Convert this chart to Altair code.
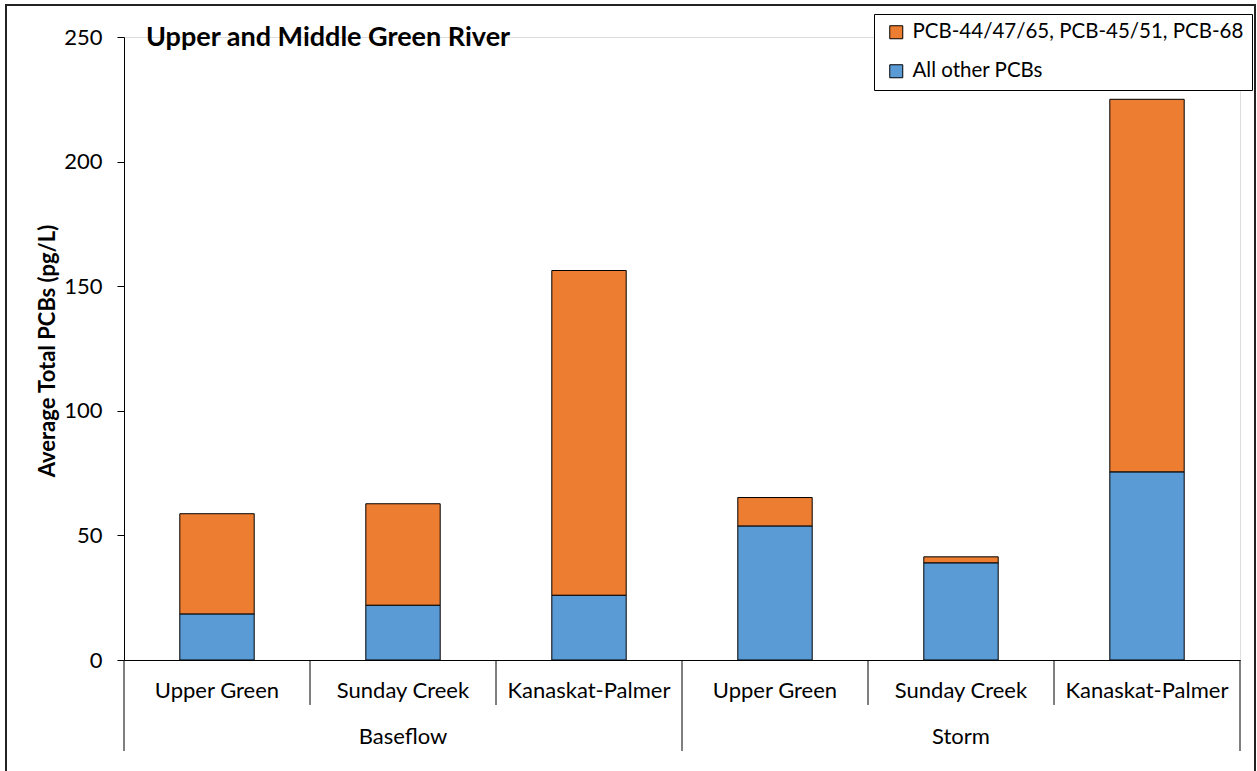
import altair as alt
import pandas as pd

# Sampling groups and sites along the Green River
groups = ["Baseflow", "Storm"]
sites = ["Upper Green", "Sunday Creek", "Kanaskat-Palmer"]

# Average total PCBs (pg/L) per sample, split into two stacked parts
other_pcbs = [18.5, 22.0, 26.0, 53.8, 39.0, 75.5]
pcb_44_45_68 = [40.2, 40.7, 130.3, 11.4, 2.4, 149.5]

series_names = ["PCB-44/47/65, PCB-45/51, PCB-68", "All other PCBs"]
series_colors = ["#ED7D31", "#5B9BD5"]
y_ticks = [0, 50, 100, 150, 200, 250]

FONT = "Lato"
W, H = 1116, 623

# stacked segments: "All other PCBs" at the bottom, congeners on top
rows = []
for i in range(len(other_pcbs)):
    pos = i + 0.5
    rows.append({"x": pos, "series": series_names[1], "lo": 0.0, "hi": other_pcbs[i]})
    rows.append({"x": pos, "series": series_names[0], "lo": other_pcbs[i],
                 "hi": other_pcbs[i] + pcb_44_45_68[i]})
bars_df = pd.DataFrame(rows)

site_df = pd.DataFrame({"x": [i + 0.5 for i in range(6)],
                        "label": [sites[i % 3] for i in range(6)]})
group_df = pd.DataFrame({"x": [1.5, 4.5], "label": groups})
inner_edges = pd.DataFrame({"x": [1, 2, 4, 5]})
outer_edges = pd.DataFrame({"x": [0, 3, 6]})
one = pd.DataFrame({"t": ["Upper and Middle Green River"]})

x_scale = alt.Scale(domain=[0, 6], nice=False, zero=False)
y_scale = alt.Scale(domain=[0, 250], nice=False)

bars = alt.Chart(bars_df).transform_calculate(
    x0="datum.x - 0.2", x1="datum.x + 0.2"
).mark_bar(stroke="black", strokeWidth=1, opacity=1).encode(
    x=alt.X("x0:Q", scale=x_scale,
            axis=alt.Axis(labels=False, ticks=False, grid=False, title=None,
                          domainColor="black", domainWidth=1)),
    x2="x1:Q",
    y=alt.Y("lo:Q", scale=y_scale,
            axis=alt.Axis(values=y_ticks, grid=False, tickSize=7, tickColor="black",
                          domainColor="black", labelFontSize=22, labelFont=FONT,
                          labelColor="black", labelPadding=15,
                          title="Average Total PCBs (pg/L)", titleFont=FONT,
                          titleFontSize=22, titleFontWeight="bold", titleColor="black",
                          titleX=-77, titleY=H / 2 + 2, titleAngle=270,
                          titleAlign="center", titleBaseline="middle")),
    y2="hi:Q",
    color=alt.Color("series:N",
                    scale=alt.Scale(domain=series_names, range=series_colors),
                    legend=alt.Legend(orient="none", legendX=750, legendY=-23,
                                      title=None, symbolType="square", symbolSize=169,
                                      symbolStrokeColor="black", symbolStrokeWidth=1,
                                      symbolOffset=4,
                                      labelFontSize=20.5, labelFont=FONT,
                                      labelColor="black", labelLimit=0,
                                      strokeColor="black", fillColor="white",
                                      padding=8, rowPadding=18, labelOffset=6)),
)

inner_rules = alt.Chart(inner_edges).mark_rule(color="black", strokeWidth=1).encode(
    x=alt.X("x:Q", scale=x_scale), y=alt.value(H), y2=alt.value(H + 45)
)
outer_rules = alt.Chart(outer_edges).mark_rule(color="black", strokeWidth=1).encode(
    x=alt.X("x:Q", scale=x_scale), y=alt.value(H), y2=alt.value(H + 91)
)

site_text = alt.Chart(site_df).mark_text(
    font=FONT, fontSize=22, color="black", baseline="middle", align="center"
).encode(x=alt.X("x:Q", scale=x_scale), y=alt.value(H + 31), text="label:N")

group_text = alt.Chart(group_df).mark_text(
    font=FONT, fontSize=22, color="black", baseline="middle", align="center"
).encode(x=alt.X("x:Q", scale=x_scale), y=alt.value(H + 77), text="label:N")

title = alt.Chart(one).mark_text(
    font=FONT, fontSize=27, fontWeight="bold", color="black",
    align="left", baseline="middle"
).encode(x=alt.value(22), y=alt.value(1), text="t:N")

frame = alt.Chart(one).mark_rect(
    fillOpacity=0, stroke="#222222", strokeWidth=2
).encode(x=alt.value(-118), x2=alt.value(1131), y=alt.value(-32), y2=alt.value(745))

chart = alt.layer(
    frame, bars, inner_rules, outer_rules, site_text, group_text, title
).properties(
    width=W, height=H,
    padding={"left": 124, "top": 37, "right": 17, "bottom": 111},
    autosize=alt.AutoSizeParams(type="none"),
    background="white",
).configure_view(stroke=None).configure(font=FONT)

chart.save("out.html", embed_options={"renderer": "svg", "actions": False})
